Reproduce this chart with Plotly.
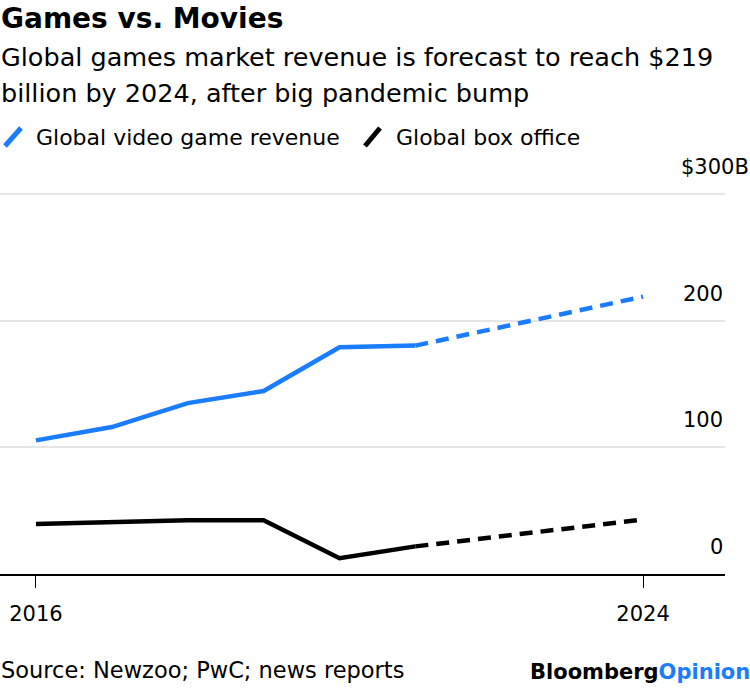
import plotly.graph_objects as go

# ---- data ----
years_actual = [2016, 2017, 2018, 2019, 2020, 2021]
games_actual = [105.5, 116.0, 134.9, 144.5, 179.0, 180.3]
box_actual = [39.5, 40.8, 42.5, 42.5, 12.5, 21.8]

years_forecast = [2021, 2024]
games_forecast = [180.3, 219.0]
box_forecast = [21.8, 43.0]

x_ticks = [2016, 2024]
y_ticks = [0, 100, 200, 300]
y_tick_labels = ["0", "100", "200", "$300B"]

BLUE = "#1a7cff"
BLACK = "#000000"
FONT = "DejaVu Sans, sans-serif"

W, H = 750, 688
L, R, T, B = 0, 25, 184, 114
PW, PH = W - L - R, H - T - B
PX_PER_UNIT = 380.0 / 300.0
Y_MAX = PH / PX_PER_UNIT


def px(xp):
    return (xp - L) / PW


def py(yp):
    return (H - B - yp) / PH


fig = go.Figure()
fig.add_trace(go.Scatter(x=years_actual, y=games_actual, mode="lines",
                         line=dict(color=BLUE, width=4.5), hoverinfo="skip"))
fig.add_trace(go.Scatter(x=years_forecast, y=games_forecast, mode="lines",
                         line=dict(color=BLUE, width=4.5, dash="13px,8px"), hoverinfo="skip"))
fig.add_trace(go.Scatter(x=years_actual, y=box_actual, mode="lines",
                         line=dict(color=BLACK, width=4.5), hoverinfo="skip"))
fig.add_trace(go.Scatter(x=years_forecast, y=box_forecast, mode="lines",
                         line=dict(color=BLACK, width=4.5, dash="13px,8px"), hoverinfo="skip"))

annotations = []
# y labels above gridlines
for v, t in zip(y_ticks, y_tick_labels):
    xr = px(751) if t.startswith("$") else 1
    annotations.append(dict(x=xr, y=v, xref="paper", yref="y", text=t,
                            xanchor="right", yanchor="bottom", yshift=13,
                            showarrow=False, font=dict(size=21, color="black", family=FONT)))

# title / subtitle
annotations.append(dict(x=px(-1), y=py(19), xref="paper", yref="paper", text="<b>Games vs. Movies</b>",
                        xanchor="left", yanchor="middle", showarrow=False,
                        font=dict(size=28, color="black", family=FONT)))
annotations.append(dict(x=px(-1), y=py(57), xref="paper", yref="paper",
                        text="Global games market revenue is forecast to reach $219",
                        xanchor="left", yanchor="middle", showarrow=False,
                        font=dict(size=25.5, color="black", family=FONT)))
annotations.append(dict(x=px(-1), y=py(93), xref="paper", yref="paper",
                        text="billion by 2024, after big pandemic bump",
                        xanchor="left", yanchor="middle", showarrow=False,
                        font=dict(size=25.5, color="black", family=FONT)))
# legend
annotations.append(dict(x=px(34), y=py(137), xref="paper", yref="paper",
                        text="Global video game revenue",
                        xanchor="left", yanchor="middle", showarrow=False,
                        font=dict(size=22, color="black", family=FONT)))
annotations.append(dict(x=px(394), y=py(137), xref="paper", yref="paper",
                        text="Global box office",
                        xanchor="left", yanchor="middle", showarrow=False,
                        font=dict(size=22, color="black", family=FONT)))
# footer
annotations.append(dict(x=px(-1), y=py(670), xref="paper", yref="paper",
                        text="Source: Newzoo; PwC; news reports",
                        xanchor="left", yanchor="middle", showarrow=False,
                        font=dict(size=22.5, color="black", family=FONT)))
annotations.append(dict(x=px(752), y=py(672), xref="paper", yref="paper",
                        text="<b>Bloomberg</b><b><span style='color:%s'>Opinion</span></b>" % BLUE,
                        xanchor="right", yanchor="middle", showarrow=False,
                        font=dict(size=21, color="black", family=FONT)))

shapes = [
    dict(type="line", xref="paper", yref="paper", x0=px(5), y0=py(146), x1=px(21), y1=py(128),
         line=dict(color=BLUE, width=5)),
    dict(type="line", xref="paper", yref="paper", x0=px(365), y0=py(146), x1=px(380), y1=py(128),
         line=dict(color=BLACK, width=5)),
]

fig.update_layout(
    width=W, height=H,
    margin=dict(l=L, r=R, t=T, b=B, pad=0),
    paper_bgcolor="white", plot_bgcolor="white",
    showlegend=False,
    annotations=annotations,
    shapes=shapes,
    font=dict(family=FONT, size=21, color="black"),
    xaxis=dict(range=[2015.526, 2025.08], tickvals=x_ticks, ticktext=[str(v) for v in x_ticks],
               ticks="outside", ticklen=12, tickwidth=1.2, tickcolor="black",
               showline=True, linecolor="black", linewidth=2, showgrid=False, zeroline=False,
               ticklabelstandoff=8,
               tickfont=dict(size=21, family=FONT, color="black"), fixedrange=True),
    yaxis=dict(range=[0, Y_MAX], tickvals=y_ticks, showticklabels=False, ticks="",
               showgrid=True, gridcolor="#e6e6e6", gridwidth=1.5, zeroline=False,
               showline=False, fixedrange=True),
)

fig.write_html("out.html", config={"displayModeBar": False},
               post_script="document.body.style.margin='0';document.body.style.overflow='hidden';")
